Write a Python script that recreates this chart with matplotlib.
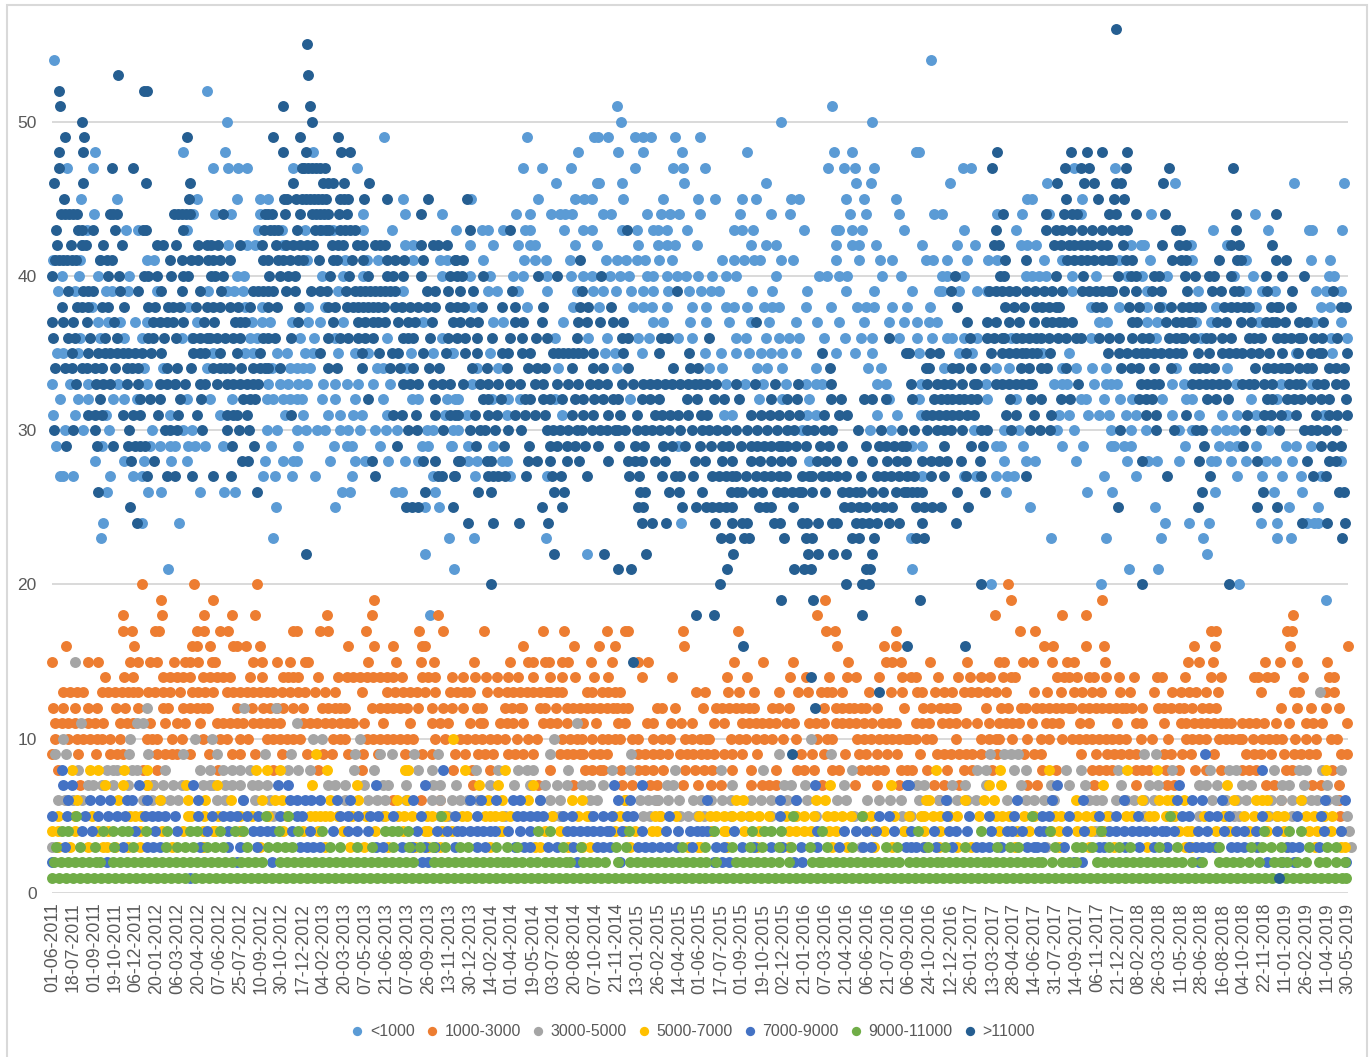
import matplotlib
matplotlib.use("Agg")
import matplotlib.pyplot as plt
from matplotlib.patches import Rectangle

W, H = 1370, 1057

tick_labels = ["01-06-2011","18-07-2011","01-09-2011","19-10-2011","06-12-2011","20-01-2012","06-03-2012","20-04-2012",
"07-06-2012","25-07-2012","10-09-2012","30-10-2012","17-12-2012","04-02-2013","20-03-2013","07-05-2013","21-06-2013",
"07-08-2013","26-09-2013","13-11-2013","30-12-2013","14-02-2014","01-04-2014","19-05-2014","03-07-2014","20-08-2014",
"07-10-2014","21-11-2014","13-01-2015","26-02-2015","14-04-2015","01-06-2015","17-07-2015","01-09-2015","19-10-2015",
"02-12-2015","21-01-2016","07-03-2016","21-04-2016","06-06-2016","21-07-2016","06-09-2016","24-10-2016","12-12-2016",
"26-01-2017","13-03-2017","28-04-2017","14-06-2017","31-07-2017","14-09-2017","06-11-2017","21-12-2017","08-02-2018",
"26-03-2018","11-05-2018","28-06-2018","16-08-2018","04-10-2018","22-11-2018","11-01-2019","26-02-2019","11-04-2019","30-05-2019"]

# value -> positions along the date sequence, one dict per series
lt1000 = {
54:[54,932],52:[207],50:[227,621,782,873],51:[617,833],
49:[384,527,594,598,608,635,643,651,675,701],
48:[95,183,225,313,578,618,643,682,748,835,853,917,920],
47:[67,93,213,228,238,247,293,357,523,542,571,635,673,683,706,829,845,856,875,964,972,1075,1116],
46:[556,597,599,622,684,767,857,872,951,1048,1176,1295,1345],
45:[81,117,197,237,260,268,403,471,538,575,584,592,623,663,698,716,743,757,792,800,847,865,897,1028,1033,1083],
44:[94,193,215,231,260,363,405,442,516,530,551,560,565,572,603,611,647,661,670,679,700,741,772,791,851,867,900,935,943,998,1023,1050,1082,1152,1256],
43:[87,126,138,187,258,282,305,322,333,363,392,456,482,488,503,525,530,564,583,592,622,637,653,658,667,687,735,743,754,805,837,840,853,863,905,965,1017,1214,1269,1310,1313,1343],
42:[82,228,247,255,283,405,413,470,493,518,530,535,575,597,638,658,667,675,697,752,767,777,837,853,860,877,923,958,976,1022,1028,1037,1132,1142,1145,1192,1228],
41:[53,80,100,147,154,307,345,367,378,413,440,447,483,524,535,546,570,606,617,626,637,645,659,672,723,735,745,755,761,782,794,837,860,881,893,927,934,948,968,989,998,1045,1063,1120,1151,1193,1247,1312,1331],
40:[62,79,98,129,237,244,322,343,363,442,470,490,513,523,547,571,583,592,610,620,629,647,653,667,677,686,698,713,727,737,777,820,828,840,848,883,902,943,948,965,1027,1033,1040,1047,1073,1097,1128,1143,1168,1235,1254,1330,1335],
39:[58,75,106,112,128,157,208,227,234,243,338,403,488,497,518,547,577,593,603,616,631,643,653,668,689,702,712,720,753,773,808,847,875,913,940,943,960,978,988,1073,1148,1199,1247,1263,1276,1317,1327,1342],
38:[92,188,245,262,308,325,473,527,573,599,633,643,652,667,692,707,727,735,748,765,773,780,807,832,858,867,875,893,908,931,1092,1120,1148,1163,1217,1257,1322,1331],
37:[98,108,120,135,147,197,252,262,270,292,308,320,343,423,493,503,563,653,663,690,707,730,752,770,797,818,840,865,890,905,918,930,938,1100,1108,1148,1158,1197,1212,1260,1315,1342],
36:[80,100,124,142,182,192,250,257,300,314,335,387,442,555,588,607,638,649,678,692,737,747,767,780,790,800,825,846,862,873,900,918,933,948,953,965,978,1012,1092,1157,1202,1332,1348],
35:[57,63,78,213,245,253,277,287,305,313,338,355,368,411,433,453,452,490,605,615,642,706,722,737,750,762,772,783,797,837,856,873,920,960,973,1043,1070,1297,1333],
34:[102,144,163,207,272,290,297,303,310,377,383,407,477,498,558,617,710,723,758,768,783,817,869,882,945,997,1010,1063,1077,1093,1107,1177,1228],
33:[52,70,88,118,147,175,268,280,288,298,307,323,335,347,358,373,390,472,727,746,764,787,807,817,823,878,887,922,987,1055,1063,1068,1095,1107,1112,1118,1173,1185,1237,1282,1313],
32:[60,78,88,113,124,137,187,210,232,267,273,283,290,297,302,322,335,355,383,412,418,447,458,455,492,508,520,555,630,760,783,810,890,920,988,1017,1082,1087,1105,1121,1133,1163,1187,1193,1252,1278],
31:[53,75,106,170,220,285,303,328,340,353,362,387,445,467,507,562,725,733,808,817,878,898,922,1060,1070,1089,1100,1110,1127,1137,1173,1200,1223,1238,1257,1288,1325],
30:[65,83,109,152,183,192,267,277,297,306,317,325,340,348,360,375,386,397,427,433,453,458,803,871,892,975,1005,1020,1058,1075,1112,1132,1147,1180,1193,1217,1227,1235,1270],
29:[56,102,150,160,170,175,188,195,205,223,271,298,334,347,352,380,422,428,451,452,468,493,678,913,923,997,1002,1024,1063,1084,1112,1115,1125,1132,1186,1220,1230,1238,1257,1287,1297,1312],
28:[95,124,144,171,187,265,283,293,297,330,355,365,388,405,418,468,477,502,507,810,1005,1027,1036,1077,1128,1149,1158,1180,1212,1217,1232,1247,1267,1277,1293,1342],
27:[60,63,73,110,133,142,263,275,292,315,352,433,475,510,547,923,965,977,997,1008,1015,1105,1137,1238,1263,1283,1302,1322],
26:[107,148,161,200,224,235,342,350,395,402,435,1007,1088,1113,1216,1275,1303],
25:[276,335,425,439,1031,1156,1290,1319],
24:[103,142,179,681,1166,1190,1210,1262,1278,1308,1315,1319],
23:[101,273,449,474,546,912,1052,1107,1162,1204,1278,1292],
22:[425,587,1208],21:[168,454,913,1130,1159],20:[992,1102,1240],19:[1327],18:[430],
}

r1000_3000 = {
20:[142,194,257,1009],19:[161,213,374,826,1012,1103],
18:[123,162,204,232,255,327,372,438,818,996,1063,1087,1294],
17:[123,132,155,159,197,204,220,228,293,297,320,328,366,419,443,484,543,564,607,625,628,683,739,827,836,897,1021,1036,1212,1217,1288,1293],
16:[66,134,192,197,210,233,237,246,260,348,374,393,422,425,523,574,599,615,684,838,885,897,1045,1054,1087,1105,1195,1216,1291,1349],
15:[52,88,98,130,138,150,157,174,185,190,198,212,215,253,262,277,290,305,308,368,396,421,434,474,510,528,533,545,549,562,568,591,612,638,648,735,764,794,849,887,893,902,931,968,1000,1005,1024,1034,1053,1068,1075,1106,1189,1200,1214,1266,1281,1298,1328],
14:[105,124,133,163,170,177,183,190,203,210,217,223,230,250,262,283,288,293,298,318,338,347,353,360,367,373,380,387,393,402,422,428,435,452,463,475,486,497,508,518,533,550,562,575,594,608,642,672,728,748,791,807,830,848,857,880,903,912,917,939,959,971,982,991,1004,1012,1016,1058,1065,1070,1078,1090,1095,1107,1120,1135,1158,1163,1186,1212,1222,1255,1259,1268,1275,1304,1330,1335],
13:[63,70,77,83,102,108,115,122,128,133,138,148,155,163,170,180,192,198,205,213,227,233,240,247,253,260,267,273,282,290,298,305,315,325,335,362,387,395,403,410,417,425,435,450,457,464,470,487,498,507,513,520,527,533,540,547,550,557,562,587,592,602,608,615,620,696,706,729,740,755,780,799,809,822,828,833,843,870,892,903,918,923,936,945,953,965,972,979,988,997,1007,1035,1048,1062,1075,1083,1093,1102,1121,1131,1155,1173,1182,1190,1197,1207,1219,1262,1295,1300,1327,1335],
12:[53,63,75,88,97,116,125,138,163,168,183,190,197,203,208,237,252,263,270,277,283,293,303,322,328,335,340,345,372,380,387,393,400,407,418,432,443,452,463,477,482,505,512,520,522,540,545,556,567,573,580,587,593,600,607,613,617,623,628,657,662,675,704,717,723,730,737,743,750,755,773,780,790,825,837,843,850,855,862,867,878,905,924,932,941,948,955,957,987,1002,1009,1022,1027,1037,1043,1050,1057,1063,1070,1073,1083,1090,1097,1103,1110,1117,1123,1127,1133,1143,1159,1165,1172,1180,1185,1193,1203,1210,1217,1282,1298,1312,1327,1340],
11:[55,62,68,75,88,95,103,120,127,133,150,165,177,185,200,217,223,230,237,243,253,260,267,273,280,303,310,317,325,332,340,347,353,364,383,410,432,440,448,470,480,483,500,507,513,523,543,550,557,567,583,596,618,625,647,653,671,681,692,715,725,743,750,757,763,770,777,787,795,810,817,825,837,843,850,857,865,873,883,890,897,917,923,930,943,950,957,967,978,990,1000,1007,1013,1020,1033,1047,1053,1060,1081,1090,1118,1137,1143,1165,1182,1187,1195,1202,1208,1215,1222,1227,1232,1243,1250,1257,1265,1277,1290,1307,1314,1323,1348],
10:[55,68,77,83,90,97,102,110,120,147,152,157,172,182,203,220,227,240,248,267,273,280,287,293,300,333,340,345,367,373,380,387,393,400,407,413,435,445,460,467,475,482,490,497,505,517,528,537,562,570,577,582,592,602,608,615,620,632,638,653,662,670,685,692,700,707,710,732,740,747,757,765,773,784,797,818,828,833,858,865,872,880,887,893,900,907,910,917,927,933,957,982,990,997,1000,1013,1028,1042,1050,1063,1073,1080,1087,1093,1100,1107,1113,1120,1127,1142,1153,1169,1187,1193,1200,1207,1220,1227,1233,1240,1243,1254,1263,1270,1277,1283,1296,1307,1317,1332,1338],
9:[52,78,96,110,117,123,157,165,172,177,190,209,232,240,255,282,307,323,332,348,363,378,405,422,432,455,465,478,485,493,508,515,523,533,560,567,573,580,583,593,600,607,638,645,653,660,668,680,687,693,702,708,715,725,733,743,758,802,813,825,846,860,867,878,888,898,921,938,945,952,960,967,973,982,998,1025,1035,1042,1082,1097,1108,1115,1122,1130,1137,1165,1172,1183,1192,1215,1247,1255,1262,1272,1285,1295,1302,1310,1317,1342,1348],
8:[58,143,157,218,273,318,362,453,472,490,550,585,592,600,603,621,638,645,653,663,685,695,705,713,733,752,777,798,805,815,833,840,862,870,878,885,902,908,913,928,948,965,973,993,1043,1057,1093,1100,1107,1113,1137,1143,1150,1167,1180,1196,1207,1222,1243,1250,1257,1287,1293,1333],
7:[80,147,153,473,538,573,622,632,650,657,683,698,712,722,752,763,770,777,823,856,878,900,935,945,960,1028,1038,1095,1137,1168,1175,1267,1275,1313,1322,1340],
6:[393,421,440,625,657,940,1282,1340],5:[660,1341],
}

r3000_5000 = {
15:[75],13:[1321],12:[147,244,276],11:[81,137,143,297,577],
10:[63,130,195,212,313,322,360,554,812],
9:[55,66,129,148,183,217,265,291,355,380,392,414,438,550,631,780,832,991,1005,1012,1019,1145,1157],
8:[78,107,113,117,132,137,165,200,210,223,232,240,250,288,298,310,354,374,418,432,476,498,518,527,533,568,612,630,675,722,764,853,978,987,1015,1027,1067,1082,1119,1173,1211,1230,1237,1275,1300,1307,1323,1342],
7:[88,93,102,113,128,153,163,173,182,203,210,213,225,232,240,252,258,267,328,335,345,364,383,388,406,433,440,456,490,514,530,545,557,567,582,590,603,667,673,733,785,792,806,845,918,925,953,966,987,1022,1052,1070,1086,1122,1150,1159,1200,1207,1218,1243,1252,1283,1290,1305,1328],
6:[58,65,73,82,170,178,217,225,255,377,385,432,440,452,460,550,560,590,597,640,648,658,679,693,702,723,772,788,838,847,891,902,920,958,977,1008,1027,1035,1045,1097,1103,1117,1135,1155,1213,1247,1282,1293,1312,1318,1337,
   143,152,161,243,270,345,368,406,468,478,540,655,668,712,732,752,762,797,808,868,880,940,948,968,1055,1090,1127,1145,1227,1238,1272,1303,1328],
5:[273,383,505,553,560,590,643,650,680,688,697,705,732,750,772,817,855,903,912,1200,1240,1278,1293,1348,
   440,448,1110,1145,1175,1225,1235,1270],
4:[905,1100,1350,1096,1104,1342],3:[52,862,1047,1352],
}

r5000_7000 = {
10:[453],9:[316],
8:[72,90,98,124,147,256,267,280,327,405,408,465,505,937,1001,1050,1128,1158,1327],
7:[105,123,147,186,217,312,357,479,498,533,831,892,990,1002,1104,1228],
6:[77,118,160,188,205,231,262,275,282,330,358,397,407,488,502,528,572,582,625,737,744,817,826,927,930,966,985,995,1077,1143,1160,1168,1173,1185,1235,1257,1263,1268,1302],
5:[58,135,188,315,320,330,404,432,467,485,495,502,578,620,660,717,725,742,760,805,828,843,864,910,922,934,958,980,1003,1025,1062,1078,1087,1127,1133,1150,1155,1167,1255,1278,1307,1315,1333,
   75,92,130,141,191,204,218,240,252,268,287,310,325,338,352,366,385,398,412,427,445,462,490,510,552,587,613,655,676,699,711,733,751,770,787,797,815,835,852,872,895,925,941,950,997,1010,1035,1056,1095,1108,1175,1205,1225,1245,1268,1285,1325],
4:[52,213,428,500,625,635,652,725,745,797,805,812,837,885,941,1030,1188,1217,1310,
   58,75,98,108,140,162,183,203,215,240,283,303,318,343,375,403,425,442,452,502,545,560,615,657,712,727,760,790,830,875,905,925,1000,1018,1052,1060,1078,1092,1104,1180,1192,1230,1250,1268,1285,1318,1332],
3:[58,107,115,540,582,698,1186,1346,
   70,88,103,128,140,172,203,260,325,350,364,388,415,428,440,490,535,568,590,630,688,700,728,758,790,833,848,875,893,925,940,958,972,1016,1060,1090,1115,1148,1168,1192,1215,1258,1288,1316,1342],
}

r7000_9000 = {
9:[1206],8:[62,443,1263],
7:[63,72,139,193,278,288,376,425,614,642,816,908,910,1058,1180],
6:[68,90,100,110,127,132,147,198,243,290,297,305,311,320,337,350,413,470,481,496,513,520,540,618,630,708,781,797,947,1018,1053,1084,1125,1178,1193,1203,1223,1326,1346],
5:[52,67,85,98,108,117,125,145,152,158,165,175,198,212,223,230,237,247,258,280,297,302,340,348,358,370,378,393,421,455,477,517,523,530,537,543,563,572,593,603,612,627,633,669,781,880,890,948,970,990,1015,1043,1050,1070,1100,1117,1139,1183,1190,1210,1218,1230,1263,1298,1322],
4:[82,92,135,155,177,207,228,253,260,267,273,292,310,333,348,357,368,417,437,447,457,462,470,477,483,490,495,508,520,530,567,573,580,587,593,600,607,610,622,642,666,678,690,697,703,708,735,818,845,857,867,877,895,912,935,950,957,968,992,1008,1013,1023,1040,1045,1068,1085,1110,1117,1125,1133,1140,1147,1155,1163,1167,1175,1199,1208,1225,1237,1245,1257,1278,1325,1342],
3:[65,123,147,153,160,200,228,240,257,300,307,313,320,383,402,455,477,485,530,548,557,573,597,603,610,638,645,652,660,668,677,692,717,743,772,802,818,840,872,907,917,953,977,983,990,1028,1035,1038,1065,1100,1140,1197,1203,1210,1232,1238,1245,1293,
   376,412,425,435,515,524,725,755,783,864,912,925,937,1002,1045,1105,1126,1155,1168,1190,1216,1258,1288,1300,1320],
2:[52,107,237,272,422,428,577,620,715,723,730,795,803,1075,1083,1200,1268,1283,1295,1347],
1:[190],
}

r9000_11000 = {
5:[76,266,288,441,794,863,1033,1171],
4:[62,68,103,113,122,128,146,167,190,197,220,235,243,279,298,322,385,392,398,408,538,550,629,715,753,765,772,782,823,919,982,1051,1102,1265,1290,1302],
3:[56,80,95,114,133,166,177,185,193,207,215,223,247,268,277,285,292,330,340,357,372,393,409,420,433,445,460,468,496,507,517,563,581,616,626,682,706,733,751,763,780,792,811,828,853,887,898,929,946,966,998,1011,1019,1056,1077,1083,1093,1110,1120,1131,1160,1178,1220,1252,1263,1272,1282,1310,1328,1337],
2:[54,61,68,75,82,89,96,100,113,120,127,134,141,148,155,162,169,176,183,190,197,204,211,218,225,232,241,248,255,262,280,287,294,301,308,315,322,329,336,343,350,357,364,371,378,385,392,399,406,413,434,441,448,455,462,469,476,483,490,497,503,508,515,522,530,537,545,552,559,566,570,583,590,597,605,618,630,637,644,651,658,665,672,679,686,693,700,707,717,737,744,751,758,765,772,780,790,813,820,823,830,837,844,851,858,865,872,879,886,893,900,910,917,924,931,938,943,950,957,964,971,978,985,990,997,1004,1011,1018,1025,1032,1039,1043,1053,1063,1070,1077,1098,1105,1113,1120,1127,1134,1141,1148,1155,1162,1169,1176,1183,1193,1203,1220,1227,1234,1241,1250,1260,1275,1282,1288,1298,1307,1320,1327,1337,1346],
1:[52,59,66,73,80,87,94,101,108,115,122,129,136,143,150,157,164,171,178,185,195,202,209,216,223,230,237,244,251,258,265,272,279,286,293,300,307,314,321,328,335,342,349,356,363,370,377,384,391,398,405,412,419,426,433,440,447,454,461,468,475,482,489,496,503,510,517,524,531,538,545,552,559,566,573,580,587,594,601,608,615,622,629,636,643,650,657,664,671,678,685,692,699,706,713,720,727,734,741,748,755,762,769,776,783,790,797,804,811,818,825,832,839,846,853,860,867,874,881,888,895,902,909,916,923,930,937,944,951,958,965,972,979,986,993,1000,1007,1014,1021,1028,1035,1042,1049,1056,1063,1070,1077,1084,1091,1098,1105,1112,1119,1126,1133,1140,1147,1154,1161,1168,1175,1182,1189,1196,1203,1210,1217,1224,1231,1238,1245,1252,1259,1266,1273,1287,1294,1301,1308,1315,1322,1329,1336,1343,1347],
}

gt11000 = {
56:[1117],55:[307],53:[118,308],52:[59,144,147],51:[60,283,310],50:[82,312],
49:[65,84,187,273,300,338],48:[59,83,283,306,341,350,998,1072,1088,1103,1128],
47:[59,112,133,302,304,308,312,316,320,325,993,1066,1082,1090,1127,1170,1234],
46:[54,83,146,190,293,323,328,333,344,369,1058,1085,1095,1117,1122,1164],
45:[64,189,284,287,296,302,306,310,314,318,322,326,340,344,348,364,387,428,467,1067,1099,1115,1125],
44:[61,65,69,73,77,110,113,117,174,178,182,186,190,223,265,268,272,285,300,312,316,320,324,328,339,347,421,1004,1047,1065,1073,1078,1110,1117,1137,1166,1237,1277],
43:[56,78,82,93,115,143,146,183,264,270,274,278,297,315,320,326,329,340,345,350,355,470,510,627,997,1047,1057,1063,1072,1083,1093,1103,1113,1122,1128,1177,1181,1237],
42:[57,71,82,86,103,122,157,163,176,198,207,211,218,240,262,276,286,293,300,307,313,332,338,343,357,363,375,380,385,421,433,438,447,995,1000,1055,1062,1070,1075,1082,1088,1093,1102,1108,1124,1163,1180,1187,1232,1240,1273],
41:[55,59,63,67,72,76,100,107,112,170,182,191,198,208,213,220,230,263,268,278,283,290,298,303,319,333,337,352,363,387,395,404,423,456,455,463,580,1006,1027,1068,1075,1082,1088,1095,1103,1110,1113,1127,1133,1173,1182,1187,1220,1238,1242,1277,1287],
40:[52,108,119,144,148,157,171,183,188,211,215,223,269,280,288,295,330,349,368,387,393,403,421,450,457,462,483,538,557,601,956,1001,1005,1057,1084,1119,1132,1137,1155,1160,1186,1196,1210,1215,1232,1267,1283,1305],
39:[68,83,88,93,120,138,161,182,200,221,253,258,263,268,273,286,295,311,320,327,346,355,360,365,370,375,380,385,390,395,427,435,448,460,473,512,582,677,952,990,997,1003,1010,1017,1027,1036,1045,1053,1063,1083,1090,1097,1103,1110,1113,1125,1137,1153,1162,1188,1213,1222,1235,1240,1268,1293,1334],
38:[62,77,82,88,102,108,124,148,155,168,173,180,196,207,213,220,230,238,250,268,277,299,328,335,347,353,358,363,368,373,378,384,395,402,410,418,427,435,450,457,464,482,502,515,543,580,588,611,958,1006,1015,1025,1037,1043,1050,1057,1060,1097,1103,1130,1140,1160,1172,1183,1190,1197,1202,1225,1232,1238,1245,1250,1272,1278,1280,1292,1342,1347],
37:[52,63,73,87,114,153,160,167,173,183,204,214,235,240,245,298,333,358,365,373,378,385,398,408,415,432,453,460,470,478,515,523,542,578,587,600,613,623,757,968,988,997,1010,1020,1035,1047,1053,1060,1065,1073,1133,1138,1167,1177,1183,1190,1192,1218,1227,1242,1252,1267,1273,1277,1286,1300,1308,1324],
36:[53,68,75,90,105,117,148,153,164,176,193,200,207,210,217,225,233,240,263,268,275,291,328,340,348,358,365,373,403,408,413,430,448,457,465,477,492,510,522,536,547,577,622,628,661,668,710,890,971,988,995,1003,1005,1017,1023,1030,1037,1042,1050,1059,1067,1077,1082,1100,1110,1120,1133,1143,1150,1170,1177,1183,1185,1195,1207,1212,1223,1232,1250,1255,1262,1278,1285,1292,1300,1303,1315,1323,1338],
35:[72,88,98,105,110,117,123,128,135,142,151,161,193,200,205,220,237,260,320,362,379,392,398,423,446,465,477,502,508,522,530,553,558,563,568,573,578,583,593,623,659,689,823,907,910,931,940,967,992,1003,1010,1017,1023,1027,1033,1038,1051,1109,1120,1128,1137,1143,1148,1155,1162,1170,1177,1183,1199,1210,1223,1230,1237,1243,1252,1260,1270,1283,1299,1312,1320,1323,1348],
34:[55,65,72,82,87,95,102,115,127,132,138,167,177,191,213,220,225,230,241,253,260,265,268,280,328,337,362,390,400,413,429,439,472,487,507,528,537,545,572,593,603,628,673,690,698,831,927,930,953,960,972,986,1022,1030,1042,1048,1067,1122,1132,1140,1155,1172,1195,1200,1207,1215,1256,1268,1275,1282,1288,1290,1300,1308,1313,1330,1337,1345],
33:[76,96,103,110,127,138,160,167,175,185,200,205,217,227,233,240,247,253,258,403,410,418,433,442,450,463,480,488,498,510,520,535,543,557,568,578,590,598,607,622,633,643,650,657,665,672,680,688,695,700,708,717,737,756,776,799,832,912,928,938,945,952,963,975,978,997,1003,1010,1017,1023,1030,1033,1079,1142,1148,1155,1160,1193,1200,1207,1213,1220,1227,1243,1250,1255,1265,1273,1290,1297,1302,1318,1325,1337,1345],
32:[100,140,150,160,180,201,243,250,255,368,435,483,488,501,525,530,543,550,562,575,583,594,603,613,618,642,650,659,687,697,715,725,740,772,788,798,832,842,865,873,887,913,935,942,948,953,960,965,972,978,1011,1032,1042,1062,1071,1140,1147,1153,1208,1217,1229,1268,1273,1288,1295,1302,1312,1322,1330,1347],
31:[88,95,102,123,133,140,158,178,197,227,233,237,247,291,393,402,416,435,450,458,455,475,488,497,515,525,535,545,572,583,593,608,620,637,655,662,670,678,688,702,708,752,762,771,780,790,800,825,840,848,927,933,940,947,953,960,968,975,1007,1017,1035,1052,1147,1157,1187,1248,1265,1272,1282,1297,1317,1330,1338,1348],
30:[54,73,95,129,165,170,177,202,227,239,249,408,417,443,470,480,485,495,508,521,547,553,560,568,577,582,592,600,607,615,618,625,637,645,652,660,669,680,692,703,710,718,727,737,748,758,768,778,788,795,808,815,825,833,859,882,903,915,928,938,945,952,963,982,988,1012,1031,1041,1051,1121,1157,1175,1197,1203,1246,1262,1280,1305,1312,1318,1327,1337],
29:[66,97,113,128,135,140,145,232,254,397,476,504,529,550,557,567,575,585,598,619,635,644,663,672,685,701,712,723,730,742,752,758,765,772,780,783,788,797,807,821,830,843,867,880,887,895,903,907,945,972,984,1205,1244,1322,1333,1342],
28:[131,154,242,248,372,423,435,458,460,487,491,528,537,550,567,579,608,628,635,642,655,665,695,706,723,733,752,761,772,782,792,818,827,837,853,873,888,898,907,923,932,940,948,962,981,1143,1200,1258,1308,1330,1337],
27:[147,167,175,192,213,231,375,438,442,454,455,488,493,498,505,526,552,561,587,629,639,662,675,680,693,713,720,727,733,737,747,757,765,772,780,787,803,810,813,823,830,838,847,862,878,885,892,900,908,915,932,945,967,982,1027,1168,1211,1314,1327],
26:[98,257,425,478,491,554,564,640,645,669,679,703,732,738,743,754,763,778,785,793,800,803,813,826,843,850,857,862,873,884,897,905,908,913,918,923,958,986,1203,1264,1340,1345],
25:[130,406,412,418,453,542,562,638,643,682,696,707,713,720,727,733,760,767,772,794,845,852,860,867,877,885,893,917,925,933,942,969,1119,1199,1258,1278],
24:[137,468,493,519,548,642,652,666,716,733,743,748,775,781,803,808,819,833,838,857,863,870,878,890,900,923,957,1303,1328,1346],
23:[722,731,745,750,785,807,813,853,860,875,917,925,1343],
22:[306,554,604,646,734,809,819,834,847,873],
21:[618,631,728,795,805,812,867,871],
20:[491,721,847,863,870,982,1143,1230],
19:[782,814,921],18:[696,715,863],
16:[744,908,966],15:[633],14:[812],13:[880],12:[816],9:[793],1:[1280],
}

series = [("<1000", lt1000, "#5B9BD5"), ("1000-3000", r1000_3000, "#ED7D31"), ("3000-5000", r3000_5000, "#A5A5A5"),
          ("5000-7000", r5000_7000, "#FFC000"), ("7000-9000", r7000_9000, "#4472C4"),
          ("9000-11000", r9000_11000, "#70AD47"), (">11000", gt11000, "#255E91")]

plt.rcParams['font.family'] = ['Liberation Sans', 'DejaVu Sans']
fig = plt.figure(figsize=(W/100, H/100), dpi=100)
ax = fig.add_axes([52/W, (H-893)/H, (1348-52)/W, 879.5/H])
ax.set_xlim(52, 1348)
ax.set_ylim(0, 57)

handles = []
for name, rows, colour in series:
    xs = [x for v, row in rows.items() for x in row]
    ys = [v for v, row in rows.items() for x in row]
    handles.append(ax.scatter(xs, ys, s=62, c=colour, linewidths=0, clip_on=False, zorder=3, label=name))

for s in ax.spines.values():
    s.set_visible(False)
ax.set_axisbelow(True)
ax.yaxis.grid(True, color="#D9D9D9", lw=1.4)
ax.set_yticks([0, 10, 20, 30, 40, 50])
ax.tick_params(axis='y', length=0, pad=11, labelsize=12.5, labelcolor="#595959")
step = (1349 - 52.5) / (len(tick_labels) - 1)
ax.set_xticks([52.5 + i * step for i in range(len(tick_labels))])
ax.set_xticklabels(tick_labels, rotation=90, ha='center', va='top')
ax.tick_params(axis='x', length=0, pad=7, labelsize=12.8, labelcolor="#595959")

fig.legend(handles=handles, loc='center', bbox_to_anchor=(693/W, (H-1031)/H), ncol=7, frameon=False,
           fontsize=11.4, labelcolor="#595959", handlelength=0.8, handletextpad=0.4, columnspacing=0.68,
           markerscale=0.85)

fig.add_artist(Rectangle((7/W, -0.05), (1367-7)/W, (H-5)/H + 0.05, transform=fig.transFigure,
                         fill=False, edgecolor="#D9D9D9", lw=1.5))
fig.savefig("out.png", dpi=100)
